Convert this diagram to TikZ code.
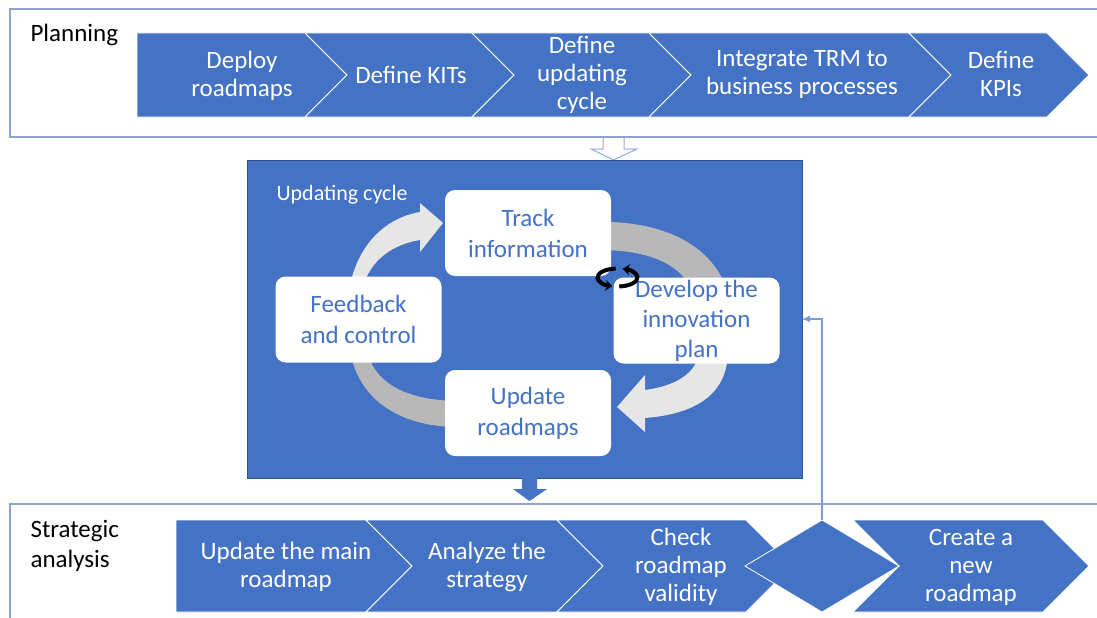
\documentclass[tikz,border=0pt]{standalone}
\usepackage{fontspec}
\setmainfont{Carlito}
\usetikzlibrary{arrows.meta,shapes.geometric}
\definecolor{tblue}{HTML}{4472C4}
\definecolor{darkblue}{HTML}{2F528F}
\definecolor{frameline}{HTML}{8EA4CC}
\definecolor{hollowline}{HTML}{8FAADC}
\definecolor{fbline}{HTML}{7C9BD6}
\definecolor{lgray}{HTML}{E6E6E6}
\definecolor{dgray}{HTML}{B8B8B8}

\begin{document}
\begin{tikzpicture}[x=1pt,y=-1pt]
 \tikzstyle{chev}=[fill=tblue, draw=white, line width=0.8pt]
 \tikzstyle{chevtxt}=[text=white, align=center, font=\fontsize{25}{28}\selectfont]
 \tikzstyle{cyc}=[rectangle, rounded corners=10pt, fill=white, minimum width=166pt, minimum height=86pt, inner sep=0pt, text=tblue, align=center, font=\fontsize{25}{31}\selectfont]
 \tikzstyle{lbl}=[anchor=west, align=left, font=\fontsize{25}{30}\selectfont]
 \tikzstyle{frame}=[draw=frameline, line width=1.2pt]
 \tikzstyle{dmd}=[diamond, fill=tblue, draw=white, line width=0.8pt, minimum width=154pt, minimum height=92pt, inner sep=0pt, outer sep=0pt]
 \tikzstyle{icon}=[black, line width=4pt, -{Stealth[length=7pt,width=11pt]}]
 \tikzstyle{fbk}=[draw=fbline, line width=1.3pt, -{Latex[length=8pt,width=7pt]}]
 \useasboundingbox (0,0) rectangle (1097,618);
 %
 \draw[frame] (1097,9) -- (10,9) -- (10,137) -- (1097,137);
 \draw[frame] (1097,504) -- (10,504) -- (10,618);
 \node[lbl] (planning) at (27,35) {Planning};
 \node[lbl] (strategic) at (27,546) {Strategic\\analysis};
 %
 \draw[hollowline, fill=white, line width=1pt] (603,138) -- (603,149) -- (591,149) -- (613.5,160) -- (637,149) -- (624,149) -- (624,138);
 \node[draw=darkblue, fill=tblue, line width=1pt, minimum width=555pt, minimum height=318pt, inner sep=0pt, outer sep=0pt] (cyclebox) at (524.5,319) {};
 \node[anchor=west, text=white, font=\fontsize{22}{26}\selectfont] (cyclelbl) at (273,195) {Updating cycle};
 %
 \fill[lgray] (349,290) .. controls (357,245) and (385,218) .. (420,212) -- (420,203) -- (443,223) -- (420,252) -- (420,240) .. controls (395,244) and (370,258) .. (362,290) -- cycle;
 \fill[dgray] (600,222) .. controls (655,221) and (710,240) .. (727,290) -- (692,290) .. controls (679,262) and (645,250) .. (600,250) -- cycle;
 \fill[lgray] (728,350) .. controls (728,395) and (695,414) .. (645,418) -- (645,432) -- (617,407) -- (645,375) -- (645,390) .. controls (675,386) and (697,374) .. (700,350) -- cycle;
 \fill[dgray] (350,350) .. controls (358,400) and (400,426) .. (455,427) -- (455,401) .. controls (410,400) and (374,385) .. (367,350) -- cycle;
 %
 \node[cyc] (track) at (528,233) {Track\\information};
 \node[cyc] (feedback) at (358.5,319.5) {Feedback\\and control};
 \node[cyc, font=\fontsize{25}{30}\selectfont] (develop) at (696.5,320.5) {Develop the\\innovation\\plan};
 \node[cyc] (update) at (528,413) {Update\\roadmaps};
 \draw[icon] (617.5,277.5) ++(-95:20 and 9) arc[start angle=-95, end angle=-255, x radius=20, y radius=9];
 \draw[icon] (617.5,277.5) ++(-275:20 and 9) arc[start angle=-275, end angle=-435, x radius=20, y radius=9];
 %
 \fill[tblue] (522,478) -- (522,489) -- (513,489) -- (529.5,501) -- (547,489) -- (537,489) -- (537,478) -- cycle;
 %% planning steps
 \draw[chev] (137,33) -- (305,33) -- (347,75) -- (305,117) -- (137,117) -- cycle;
 \draw[chev] (305,33) -- (472,33) -- (514,75) -- (472,117) -- (305,117) -- (347,75) -- cycle;
 \draw[chev] (472,33) -- (649,33) -- (691,75) -- (649,117) -- (472,117) -- (514,75) -- cycle;
 \draw[chev] (649,33) -- (909,33) -- (951,75) -- (909,117) -- (649,117) -- (691,75) -- cycle;
 \draw[chev] (909,33) -- (1047,33) -- (1089,75) -- (1047,117) -- (909,117) -- (951,75) -- cycle;
 \node[chevtxt] (deploy) at (242,76) {Deploy\\roadmaps};
 \node[chevtxt] (kits) at (411,75) {Define KITs};
 \node[chevtxt] (defcycle) at (582,75) {Define\\updating\\cycle};
 \node[chevtxt] (integrate) at (802,74) {Integrate TRM to\\business processes};
 \node[chevtxt] (kpis) at (1001,74) {Define\\KPIs};
 %% strategic analysis steps
 \draw[chev] (176,520) -- (366,520) -- (412,566) -- (366,612) -- (176,612) -- cycle;
 \draw[chev] (366,520) -- (557,520) -- (603,566) -- (557,612) -- (366,612) -- (412,566) -- cycle;
 \draw[chev] (557,520) -- (746,520) -- (792,566) -- (746,612) -- (557,612) -- (603,566) -- cycle;
 \draw[chev] (853,520) -- (1043,520) -- (1089,566) -- (1043,612) -- (853,612) -- (899,566) -- cycle;
 \node[dmd] (decide) at (822,566) {};
 \node[chevtxt] (updmain) at (286,567) {Update the main\\roadmap};
 \node[chevtxt] (analyze) at (487,567) {Analyze the\\strategy};
 \node[chevtxt] (check) at (681,567) {Check\\roadmap\\validity};
 \node[chevtxt] (create) at (971,567) {Create a\\new\\roadmap};
 %%
 \draw[fbk] (decide.north) |- (cyclebox.east);
\end{tikzpicture}
\end{document}
